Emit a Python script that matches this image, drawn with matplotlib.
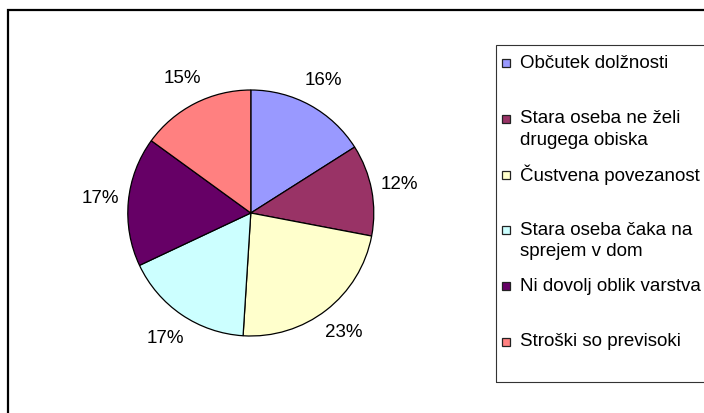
import matplotlib
matplotlib.use('Agg')
import matplotlib.pyplot as plt
from matplotlib.patches import Rectangle

plt.rcParams['font.family'] = ['Liberation Sans', 'DejaVu Sans']

# data
labels = ['Občutek dolžnosti', 'Stara oseba ne želi\ndrugega obiska', 'Čustvena povezanost',
          'Stara oseba čaka na\nsprejem v dom', 'Ni dovolj oblik varstva', 'Stroški so previsoki']
values = [16, 12, 23, 17, 17, 15]
colors = ['#9999FF', '#993366', '#FFFFCC', '#CCFFFF', '#660066', '#FF8080']

W, H = 704, 413
fig = plt.figure(figsize=(W / 100, H / 100), dpi=100)

def fx(px):
    return px / W

def fy(py):
    return 1 - py / H

# chart area border (runs off the right and bottom edges)
fig.patches.append(Rectangle((fx(8), fy(430)), 1.2, fy(10) - fy(430), transform=fig.transFigure,
                             fill=False, edgecolor='black', linewidth=1.6, clip_on=False))

# pie
cx, cy, r = 250.8, 213, 123
ax = fig.add_axes([fx(cx - r), fy(cy + r), 2 * r / W, 2 * r / H])
wedges, texts, autotexts = ax.pie(values, colors=colors, startangle=90, counterclock=False,
                                  autopct='%1.0f%%', pctdistance=1.23,
                                  wedgeprops=dict(edgecolor='black', linewidth=0.9),
                                  textprops=dict(fontsize=13.5))
ax.set_xlim(-1, 1)
ax.set_ylim(-1, 1)
ax.set_aspect('equal')
ax.axis('off')

# legend box
fig.patches.append(Rectangle((fx(495.5), fy(382)), 1.0, fy(45) - fy(382), transform=fig.transFigure,
                             fill=False, edgecolor='#333333', linewidth=0.8, clip_on=False))
for i, (lab, col) in enumerate(zip(labels, colors)):
    y0 = 63 + 55.8 * i
    fig.patches.append(Rectangle((fx(502), fy(y0 + 4)), 8 / W, 8 / H, transform=fig.transFigure,
                                 facecolor=col, edgecolor='#222222', linewidth=0.9))
    for j, line in enumerate(lab.split('\n')):
        fig.text(fx(520), fy(y0 + 21.5 * j), line, fontsize=13.5, va='center', ha='left')

fig.savefig('out.png', dpi=100)
